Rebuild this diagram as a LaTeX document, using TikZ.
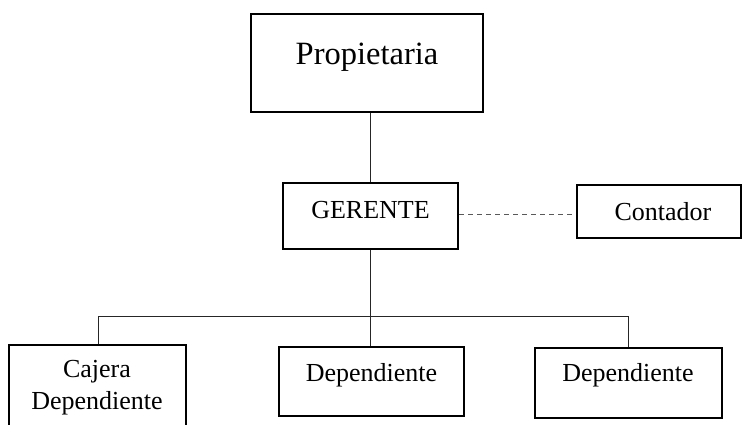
\documentclass[tikz,border=0pt]{standalone}
\usepackage{fontspec}
\setmainfont{Liberation Serif}
\begin{document}
\begin{tikzpicture}[x=1pt,y=-1pt,
  box/.style={draw=black,line width=2.2pt,inner sep=0pt},
  lbl/.style={inner sep=0pt,font=\fontsize{26}{30}\selectfont},
  conn/.style={draw=black!85,line width=0.9pt},
  dconn/.style={draw=black!65,line width=1pt,dash pattern=on 5pt off 4pt}]
\useasboundingbox (0,0) rectangle (742,424);
\begin{scope}
\clip (0,0) rectangle (742,424);
% boxes
\node[box,minimum width=232pt,minimum height=98pt] (prop) at (367,63) {};
\node[box,minimum width=175pt,minimum height=66pt] (ger) at (370.5,216) {};
\node[box,minimum width=164pt,minimum height=53pt] (cont) at (659,211.5) {};
\node[box,minimum width=177pt,minimum height=84pt] (caj) at (97.5,387) {};
\node[box,minimum width=185pt,minimum height=69pt] (dep1) at (371.5,381.5) {};
\node[box,minimum width=187pt,minimum height=70pt] (dep2) at (628.5,383) {};
\end{scope}
% labels
\node[lbl,font=\fontsize{32.5}{36}\selectfont] (tprop) at (367,57) {Propietaria};
\node[lbl] (tger) at (370.5,210) {GERENTE};
\node[lbl] (tcont) at (663,212) {Contador};
\node[lbl] (tcaj1) at (97,372) {Cajera};
\node[lbl] (tcaj2) at (97,403) {Dependiente};
\node[lbl] (tdep1) at (371.5,375) {Dependiente};
\node[lbl] (tdep2) at (628,375) {Dependiente};
% connectors
\coordinate (hub) at (370,316);
\coordinate (hl) at (98,316);
\coordinate (hr) at (628,316);
\draw[conn] (prop.south -| hub) -- (ger.north -| hub);
\draw[conn] (ger.south -| hub) -- (hub);
\draw[conn] (hl) -- (hr);
\draw[conn] (hl) -- (hl |- caj.north);
\draw[conn] (hub) -- (hub |- dep1.north);
\draw[conn] (hr) -- (hr |- dep2.north);
\draw[dconn] (ger.east) ++(0,-2) -- (cont.west |- 0,214);
\end{tikzpicture}
\end{document}
